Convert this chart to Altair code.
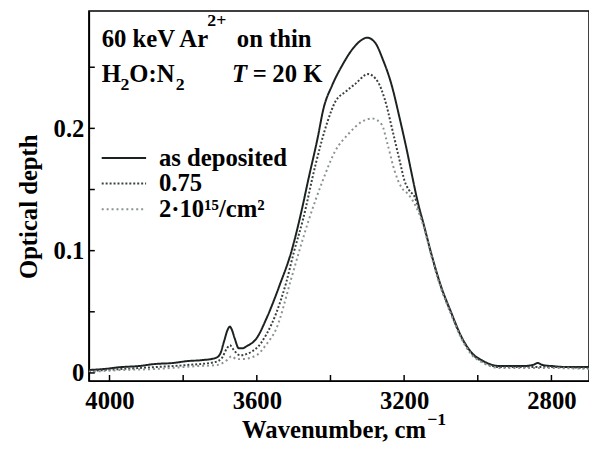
import altair as alt
import pandas as pd

# ---- data ----
series_labels = ["as deposited", "0.75", "2·10¹⁵/cm²"]

wn_deposited = [4056, 4016, 3968, 3922, 3877, 3829, 3788, 3748, 3713, 3700, 3689, 3679, 3673, 3668,
                3660, 3649, 3638, 3628, 3601, 3574, 3547, 3539, 3507, 3480, 3459, 3435, 3419, 3395,
                3368, 3341, 3314, 3301, 3279, 3258, 3234, 3212, 3191, 3180, 3164, 3145, 3127, 3100,
                3073, 3046, 3020, 2985, 2939, 2878, 2851, 2837, 2824, 2797, 2757, 2698]
od_deposited = [0.0024, 0.0032, 0.0048, 0.0056, 0.0073, 0.0081, 0.0097, 0.0105, 0.0121, 0.0153, 0.0258,
                0.0355, 0.0379, 0.0355, 0.0282, 0.0202, 0.0202, 0.0218, 0.0282, 0.0444, 0.0645, 0.0710,
                0.0984, 0.1306, 0.1597, 0.1919, 0.2161, 0.2355, 0.2516, 0.2645, 0.2726, 0.2742, 0.2702,
                0.2565, 0.2355, 0.2081, 0.1798, 0.1637, 0.1411, 0.1194, 0.0984, 0.0710, 0.0500, 0.0306,
                0.0177, 0.0097, 0.0056, 0.0056, 0.0065, 0.0081, 0.0065, 0.0056, 0.0048, 0.0048]

wn_075 = [4056, 3968, 3877, 3788, 3713, 3695, 3681, 3673, 3662, 3646, 3601, 3574, 3547, 3520, 3499,
          3475, 3440, 3408, 3387, 3360, 3333, 3298, 3271, 3253, 3231, 3212, 3199, 3186, 3172, 3159,
          3145, 3127, 3100, 3073, 3046, 3020, 2985, 2939, 2797, 2698]
od_075 = [0.0016, 0.0032, 0.0048, 0.0065, 0.0089, 0.0121, 0.0202, 0.0226, 0.0185, 0.0145, 0.0202,
          0.0315, 0.0492, 0.0742, 0.0992, 0.1250, 0.1710, 0.2056, 0.2218, 0.2298, 0.2363, 0.2444,
          0.2379, 0.2242, 0.1976, 0.1734, 0.1573, 0.1492, 0.1444, 0.1331, 0.1185, 0.0976, 0.0702,
          0.0492, 0.0298, 0.0169, 0.0089, 0.0048, 0.0048, 0.0040]

wn_2e15 = [4056, 3968, 3877, 3762, 3708, 3681, 3668, 3655, 3641, 3601, 3574, 3547, 3507, 3486, 3459,
           3421, 3387, 3352, 3314, 3287, 3261, 3245, 3226, 3207, 3191, 3177, 3161, 3145, 3127, 3100,
           3073, 3046, 3020, 2985, 2939, 2797, 2698]
od_2e15 = [0.0008, 0.0024, 0.0032, 0.0056, 0.0065, 0.0105, 0.0137, 0.0113, 0.0113, 0.0145, 0.0234,
           0.0363, 0.0766, 0.0984, 0.1250, 0.1573, 0.1815, 0.1952, 0.2056, 0.2081, 0.2032, 0.1871,
           0.1653, 0.1516, 0.1468, 0.1411, 0.1315, 0.1177, 0.0968, 0.0694, 0.0484, 0.0290, 0.0161,
           0.0081, 0.0040, 0.0040, 0.0032]

x_label_ticks = [4000, 3600, 3200, 2800]
x_all_ticks = [4000, 3800, 3600, 3400, 3200, 3000, 2800]
y_label_ticks = [0, 0.1, 0.2]
y_all_ticks = [0, 0.05, 0.1, 0.15, 0.2, 0.25]
x_domain = [2698, 4056]
y_domain = [-0.0065, 0.296]

x_title = "Wavenumber, cm"
x_title_sup = "\u22121"
y_title = "Optical depth"
ann_texts = ["60 keV Ar", "2+", "on thin", "H", "2", "O:N", "2", "T", "=", "20 K"]

# ---- build table ----
frames = []
for lab, wn, od in zip(series_labels, [wn_deposited, wn_075, wn_2e15],
                       [od_deposited, od_075, od_2e15]):
    frames.append(pd.DataFrame({"wn": wn, "od": od, "series": lab}))
df = pd.concat(frames, ignore_index=True)

FONT = "Liberation Serif"
FS = 25
W, H = 507, 375
TICK = 6

x_scale = alt.Scale(domain=x_domain, reverse=True, nice=False, zero=False)
y_scale = alt.Scale(domain=y_domain, nice=False, zero=False)

x_axis = alt.Axis(orient="bottom", values=x_label_ticks, format="d", ticks=False, grid=False,
                  domainColor="black", domainWidth=1.5, labelFont=FONT, labelFontSize=FS,
                  labelFontWeight="bold", labelColor="black", labelPadding=8,
                  title=x_title, titleFont=FONT, titleFontSize=FS, titleFontWeight="bold",
                  titleColor="black", titleAlign="center", titleX=248, titlePadding=4)
y_axis = alt.Axis(orient="left", values=y_label_ticks, format=".1~f", ticks=False, grid=False,
                  domainColor="black", domainWidth=1.5, labelFont=FONT, labelFontSize=FS,
                  labelFontWeight="bold", labelColor="black", labelPadding=5,
                  title=y_title, titleFont=FONT, titleFontSize=FS, titleFontWeight="bold",
                  titleColor="black", titleAngle=270, titleAlign="center",
                  titleBaseline="alphabetic", titleX=-53, titleY=198)

legend = alt.Legend(orient="none", legendX=12, legendY=136, title=None, symbolType="stroke",
                    symbolSize=2025, symbolStrokeWidth=2, labelFont=FONT, labelFontSize=FS,
                    labelFontWeight="bold", labelColor="black", labelOffset=12, rowPadding=0,
                    clipHeight=26, padding=0)

color = alt.Color("series:N", sort=series_labels,
                  scale=alt.Scale(domain=series_labels, range=["#1c2222", "#3a4040", "#8a9292"]),
                  legend=legend)
dash = alt.StrokeDash("series:N", sort=series_labels,
                      scale=alt.Scale(domain=series_labels, range=[[1, 0], [2, 2], [2, 3]]),
                      legend=legend)

lines = alt.Chart(df).mark_line(strokeWidth=2, interpolate="monotone").encode(
    x=alt.X("wn:Q", scale=x_scale, axis=x_axis),
    y=alt.Y("od:Q", scale=y_scale, axis=y_axis),
    color=color,
    strokeDash=dash,
)

# inward tick marks, drawn through the same scales
x_ticks = alt.Chart(pd.DataFrame({"wn": x_all_ticks})).mark_rule(
    color="black", strokeWidth=1.5).encode(
    x=alt.X("wn:Q", scale=x_scale, axis=x_axis), y=alt.value(H - TICK), y2=alt.value(H))

y_ticks = alt.Chart(pd.DataFrame({"od": y_all_ticks})).mark_rule(
    color="black", strokeWidth=1.5).encode(
    y=alt.Y("od:Q", scale=y_scale, axis=y_axis), x=alt.value(0), x2=alt.value(TICK))


def txt(s, px, py, size=FS, style="normal"):
    return alt.Chart(pd.DataFrame({"t": [s]})).mark_text(
        align="left", baseline="alphabetic", font=FONT, fontSize=size, fontStyle=style,
        fontWeight="bold", color="black").encode(x=alt.value(px - 90), y=alt.value(py - 8),
                                                  text="t:N")


anns = [
    txt(ann_texts[0], 103, 45),
    txt(ann_texts[1], 210, 23, size=18),
    txt(ann_texts[2], 240, 45),
    txt(ann_texts[3], 103, 80),
    txt(ann_texts[4], 122, 88, size=18),
    txt(ann_texts[5], 131, 80),
    txt(ann_texts[6], 178, 88, size=18),
    txt(ann_texts[7], 235, 80, style="italic"),
    txt(ann_texts[8], 256, 80),
    txt(ann_texts[9], 276, 80),
    txt(x_title_sup, 433, 428, size=18),
]

chart = alt.layer(lines, x_ticks, y_ticks, *anns).properties(
    width=W, height=H,
    autosize=alt.AutoSizeParams(type="none"),
    padding={"left": 82, "top": 0, "right": 0, "bottom": 64},
    background="white",
).configure_view(stroke="black", strokeWidth=1.5)

chart.save("out.html", embed_options={"renderer": "svg", "actions": False})
